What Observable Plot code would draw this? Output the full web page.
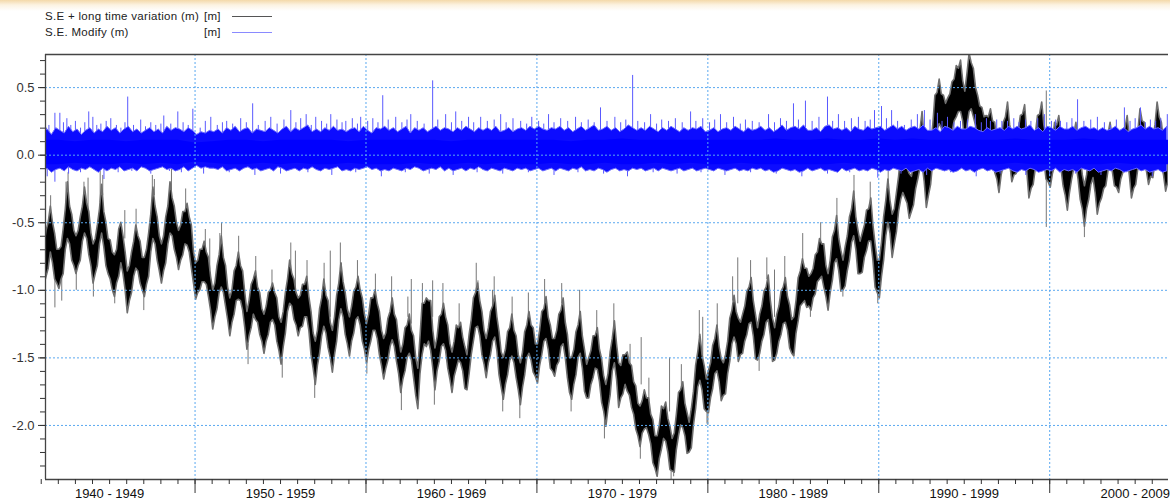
<!DOCTYPE html>
<html>
<head>
<meta charset="utf-8">
<script src="https://cdn.jsdelivr.net/npm/d3@7"></script>
<script src="https://cdn.jsdelivr.net/npm/@observablehq/plot@0.6"></script>
<style>
  html, body { margin: 0; padding: 0; background: #fff; overflow: hidden; }
  body { width: 1170px; height: 504px; position: relative; font-family: "Liberation Sans", Arial, sans-serif; }
  #haze { position: absolute; left: 0; top: 0; width: 1170px; height: 11px;
          background: linear-gradient(to bottom, rgba(240,204,140,0.75) 0px, rgba(248,228,190,0.45) 5px, rgba(255,255,255,0) 11px); }
  #legend { position: relative; height: 44px; font-size: 11.5px; letter-spacing: 0.3px; color: #222; }
  #legend span { position: absolute; line-height: 12px; white-space: pre; }
  #legend .swatch { position: absolute; width: 40px; height: 0; }
  #chart svg { display: block; }
</style>
</head>
<body>
<div id="haze"></div>
<div id="legend"></div>
<div id="chart"></div>
<script>
// ---- series names -------------------------------------------------------
const seriesNames = ["S.E + long time variation (m)", "S.E. Modify (m)"];
const seriesUnits = ["[m]", "[m]"];

// ---- axes ---------------------------------------------------------------
const xDomain = [1941.25, 2006.95];
const yDomain = [-2.4, 0.745];
const yMajorTicks = [-2.0, -1.5, -1.0, -0.5, 0.0, 0.5];
const yMinorTicks = [-2.3, -2.2, -2.1, -2.0, -1.9, -1.8, -1.7, -1.6, -1.5, -1.4, -1.3, -1.2, -1.1, -1.0,
  -0.9, -0.8, -0.7, -0.6, -0.5, -0.4, -0.3, -0.2, -0.1, 0.0, 0.1, 0.2, 0.3, 0.4, 0.5, 0.6, 0.7];
const decadeStarts = [1940, 1950, 1960, 1970, 1980, 1990, 2000];
const decadeLabels = ["1940 - 1949", "1950 - 1959", "1960 - 1969", "1970 - 1979", "1980 - 1989", "1990 - 1999", "2000 - 2009"];
const years = d3.range(1941, 2007);
const yearBounds = d3.range(1941, 2008);

// ---- S.E + long time variation: low / high of the band, eight samples per year ----
const seLow = [
  -0.85,-0.96,-0.90,-0.84,-0.72,-0.80,-0.92,-0.95,  -0.99,-0.92,-0.88,-0.70,-0.62,-0.66,-0.78,-0.82,
  -0.88,-0.82,-0.78,-0.64,-0.58,-0.62,-0.74,-0.82,  -0.95,-0.88,-0.82,-0.66,-0.58,-0.68,-0.82,-0.88,
  -0.92,-1.00,-1.05,-0.95,-0.90,-0.80,-0.88,-1.00,  -1.17,-1.08,-1.02,-0.90,-0.84,-0.86,-0.95,-1.00,
  -1.05,-0.96,-0.90,-0.72,-0.62,-0.66,-0.78,-0.86,  -0.95,-0.86,-0.80,-0.66,-0.58,-0.60,-0.70,-0.76,
  -0.85,-0.78,-0.74,-0.66,-0.67,-0.72,-0.84,-0.95,  -1.07,-1.02,-1.00,-0.94,-0.94,-0.96,-1.05,-1.15,
  -1.29,-1.20,-1.14,-1.02,-0.98,-1.02,-1.12,-1.22,  -1.34,-1.24,-1.18,-1.08,-1.07,-1.08,-1.15,-1.28,
  -1.44,-1.34,-1.28,-1.18,-1.22,-1.24,-1.33,-1.38,  -1.47,-1.38,-1.33,-1.24,-1.22,-1.26,-1.38,-1.45,
  -1.55,-1.42,-1.32,-1.16,-1.10,-1.12,-1.22,-1.26,  -1.34,-1.28,-1.27,-1.20,-1.20,-1.30,-1.48,-1.58,
  -1.70,-1.56,-1.47,-1.34,-1.27,-1.32,-1.43,-1.50,  -1.61,-1.48,-1.38,-1.22,-1.14,-1.20,-1.33,-1.40,
  -1.49,-1.38,-1.32,-1.22,-1.20,-1.26,-1.38,-1.44,  -1.54,-1.44,-1.38,-1.30,-1.30,-1.36,-1.48,-1.56,
  -1.66,-1.58,-1.52,-1.42,-1.37,-1.42,-1.53,-1.62,  -1.76,-1.66,-1.60,-1.50,-1.47,-1.52,-1.65,-1.78,
  -1.88,-1.62,-1.48,-1.40,-1.42,-1.38,-1.45,-1.58,  -1.74,-1.60,-1.53,-1.42,-1.40,-1.45,-1.58,-1.66,
  -1.76,-1.64,-1.58,-1.52,-1.54,-1.60,-1.73,-1.74,  -1.62,-1.48,-1.38,-1.28,-1.27,-1.34,-1.48,-1.55,
  -1.65,-1.54,-1.48,-1.38,-1.35,-1.45,-1.63,-1.72,  -1.81,-1.70,-1.63,-1.52,-1.49,-1.54,-1.65,-1.74,
  -1.85,-1.72,-1.63,-1.50,-1.47,-1.52,-1.61,-1.64,  -1.69,-1.56,-1.48,-1.38,-1.36,-1.44,-1.58,-1.60,
  -1.64,-1.56,-1.53,-1.42,-1.40,-1.50,-1.65,-1.76,  -1.81,-1.70,-1.63,-1.50,-1.47,-1.58,-1.75,-1.80,
  -1.80,-1.70,-1.65,-1.58,-1.59,-1.68,-1.83,-1.90,  -2.01,-1.88,-1.78,-1.60,-1.54,-1.66,-1.87,-1.80,
  -1.77,-1.70,-1.75,-1.78,-1.87,-1.92,-2.03,-2.08,  -2.16,-2.06,-2.03,-2.02,-2.07,-2.14,-2.28,-2.32,
  -2.38,-2.25,-2.18,-2.10,-2.12,-2.20,-2.33,-2.34,  -2.35,-2.18,-2.08,-2.00,-2.02,-2.08,-2.21,-2.20,
  -2.17,-2.00,-1.88,-1.72,-1.67,-1.74,-1.88,-1.90,  -1.91,-1.80,-1.73,-1.62,-1.60,-1.68,-1.82,-1.78,
  -1.77,-1.62,-1.53,-1.40,-1.35,-1.40,-1.53,-1.48,  -1.47,-1.38,-1.33,-1.25,-1.24,-1.34,-1.51,-1.52,
  -1.47,-1.38,-1.33,-1.24,-1.22,-1.34,-1.53,-1.52,  -1.47,-1.38,-1.33,-1.25,-1.24,-1.30,-1.43,-1.47,
  -1.49,-1.32,-1.23,-1.12,-1.10,-1.08,-1.13,-1.12,  -1.15,-1.06,-1.03,-0.94,-0.92,-0.90,-0.98,-1.05,
  -1.15,-1.02,-0.93,-0.80,-0.77,-0.86,-1.01,-1.00,  -0.97,-0.86,-0.78,-0.65,-0.60,-0.70,-0.88,-0.88,
  -0.87,-0.76,-0.71,-0.64,-0.64,-0.78,-0.98,-1.02,  -1.06,-0.90,-0.78,-0.60,-0.50,-0.58,-0.76,-0.66,
  -0.57,-0.42,-0.33,-0.28,-0.32,-0.36,-0.47,-0.42,  -0.37,-0.25,-0.18,-0.10,-0.07,-0.20,-0.39,-0.30,
  -0.22,-0.05, 0.07, 0.18, 0.23, 0.20, 0.12, 0.10,   0.06, 0.14, 0.17, 0.25, 0.28, 0.32, 0.32, 0.25,
   0.06, 0.22, 0.32, 0.34, 0.28, 0.22, 0.12, 0.14,   0.11, 0.12, 0.07, 0.09, 0.06,-0.01,-0.13,-0.18,
  -0.28,-0.15,-0.08, 0.00, 0.03,-0.06,-0.20,-0.15,  -0.14,-0.06,-0.03, 0.03, 0.03,-0.12,-0.32,-0.25,
  -0.22,-0.10,-0.03, 0.04, 0.06,-0.04,-0.18,-0.20,  -0.24,-0.14,-0.08,-0.02,-0.02,-0.10,-0.23,-0.30,
  -0.41,-0.28,-0.18,-0.10,-0.07,-0.18,-0.33,-0.40,  -0.53,-0.40,-0.33,-0.22,-0.17,-0.28,-0.44,-0.36,
  -0.32,-0.25,-0.23,-0.12,-0.07,-0.12,-0.23,-0.24,  -0.28,-0.18,-0.13,-0.05,-0.02,-0.15,-0.32,-0.25,
  -0.22,-0.10,-0.03,-0.02,-0.07,-0.12,-0.22,-0.16,  -0.17,-0.05, 0.02, 0.00,-0.07,-0.15,-0.27,-0.20
];
const seHigh = [
  -0.55,-0.66,-0.56,-0.50,-0.38,-0.50,-0.58,-0.70,  -0.70,-0.68,-0.55,-0.40,-0.20,-0.38,-0.44,-0.56,
  -0.60,-0.56,-0.46,-0.38,-0.24,-0.36,-0.42,-0.58,  -0.66,-0.62,-0.52,-0.40,-0.22,-0.42,-0.50,-0.62,
  -0.63,-0.72,-0.74,-0.70,-0.55,-0.50,-0.60,-0.72,  -0.86,-0.82,-0.72,-0.64,-0.52,-0.60,-0.64,-0.76,
  -0.76,-0.70,-0.58,-0.44,-0.24,-0.38,-0.46,-0.60,  -0.66,-0.60,-0.46,-0.38,-0.20,-0.32,-0.38,-0.50,
  -0.56,-0.52,-0.42,-0.42,-0.36,-0.46,-0.52,-0.72,  -0.80,-0.78,-0.70,-0.70,-0.64,-0.72,-0.76,-0.90,
  -1.00,-0.95,-0.82,-0.74,-0.60,-0.76,-0.82,-0.98,  -1.06,-1.00,-0.86,-0.82,-0.72,-0.82,-0.86,-1.02,
  -1.16,-1.08,-0.96,-0.92,-0.86,-0.98,-1.02,-1.14,  -1.18,-1.12,-1.02,-1.00,-0.95,-1.02,-1.06,-1.20,
  -1.24,-1.16,-1.02,-0.92,-0.78,-0.88,-0.92,-1.02,  -1.06,-1.04,-0.96,-0.96,-0.90,-1.05,-1.16,-1.32,
  -1.38,-1.30,-1.14,-1.06,-0.92,-1.04,-1.08,-1.24,  -1.30,-1.20,-1.04,-0.95,-0.80,-0.94,-1.02,-1.14,
  -1.20,-1.12,-1.01,-0.98,-0.90,-1.00,-1.06,-1.18,  -1.25,-1.18,-1.06,-1.06,-1.00,-1.10,-1.16,-1.30,
  -1.36,-1.32,-1.21,-1.16,-1.06,-1.18,-1.22,-1.36,  -1.46,-1.40,-1.28,-1.26,-1.18,-1.30,-1.34,-1.50,
  -1.58,-1.35,-1.10,-1.10,-1.06,-1.08,-1.08,-1.30,  -1.43,-1.35,-1.20,-1.18,-1.10,-1.20,-1.26,-1.40,
  -1.46,-1.38,-1.26,-1.28,-1.24,-1.35,-1.42,-1.48,  -1.33,-1.22,-1.06,-1.02,-0.95,-1.08,-1.16,-1.30,
  -1.36,-1.28,-1.16,-1.12,-1.04,-1.20,-1.31,-1.46,  -1.50,-1.44,-1.31,-1.28,-1.18,-1.30,-1.34,-1.48,
  -1.54,-1.46,-1.31,-1.26,-1.16,-1.26,-1.28,-1.40,  -1.40,-1.30,-1.16,-1.14,-1.05,-1.20,-1.26,-1.36,
  -1.36,-1.30,-1.18,-1.15,-1.06,-1.24,-1.33,-1.50,  -1.50,-1.44,-1.31,-1.26,-1.16,-1.34,-1.44,-1.55,
  -1.50,-1.45,-1.34,-1.34,-1.28,-1.44,-1.51,-1.64,  -1.70,-1.62,-1.46,-1.36,-1.23,-1.40,-1.54,-1.56,
  -1.48,-1.48,-1.46,-1.54,-1.56,-1.68,-1.71,-1.84,  -1.86,-1.82,-1.74,-1.80,-1.80,-1.92,-1.96,-2.08,
  -2.08,-2.00,-1.86,-1.88,-1.83,-1.95,-2.01,-2.10,  -2.06,-1.92,-1.76,-1.74,-1.68,-1.84,-1.91,-1.98,
  -1.88,-1.75,-1.56,-1.46,-1.33,-1.48,-1.56,-1.66,  -1.60,-1.54,-1.41,-1.36,-1.26,-1.42,-1.51,-1.54,
  -1.48,-1.38,-1.21,-1.15,-1.04,-1.16,-1.21,-1.24,  -1.18,-1.12,-1.01,-0.98,-0.91,-1.08,-1.18,-1.28,
  -1.18,-1.12,-1.01,-0.98,-0.89,-1.08,-1.21,-1.28,  -1.18,-1.12,-1.01,-0.98,-0.91,-1.05,-1.11,-1.22,
  -1.20,-1.08,-0.91,-0.86,-0.77,-0.84,-0.84,-0.90,  -0.88,-0.84,-0.74,-0.72,-0.62,-0.66,-0.66,-0.82,
  -0.88,-0.78,-0.61,-0.56,-0.45,-0.62,-0.71,-0.78,  -0.68,-0.60,-0.46,-0.40,-0.27,-0.46,-0.56,-0.64,
  -0.58,-0.52,-0.41,-0.40,-0.32,-0.52,-0.66,-0.78,  -0.78,-0.65,-0.46,-0.34,-0.18,-0.34,-0.44,-0.40,
  -0.28,-0.16, 0.00,-0.02,-0.01,-0.10,-0.14,-0.16,  -0.08, 0.00, 0.14, 0.18, 0.32, 0.10,-0.06,-0.02,
   0.07, 0.22, 0.44, 0.46, 0.56, 0.45, 0.44, 0.38,   0.42, 0.45, 0.54, 0.56, 0.66, 0.64, 0.70, 0.55,
   0.47, 0.60, 0.75, 0.68, 0.64, 0.50, 0.44, 0.36,   0.35, 0.28, 0.29, 0.28, 0.34, 0.25, 0.24, 0.10,
   0.02, 0.10, 0.24, 0.28, 0.39, 0.22, 0.14, 0.08,   0.12, 0.18, 0.29, 0.30, 0.37, 0.15, 0.02, 0.00,
   0.07, 0.15, 0.29, 0.30, 0.39, 0.22, 0.14, 0.05,   0.04, 0.10, 0.24, 0.22, 0.29, 0.15, 0.09,-0.05,
  -0.10,-0.01, 0.14, 0.15, 0.24, 0.08,-0.01,-0.15,  -0.23,-0.15,-0.01, 0.02, 0.14,-0.02,-0.11,-0.10,
  -0.03, 0.02, 0.14, 0.15, 0.24, 0.12, 0.09, 0.02,   0.02, 0.08, 0.19, 0.20, 0.29, 0.12, 0.02, 0.02,
   0.07, 0.18, 0.34, 0.25, 0.24, 0.12, 0.09, 0.08,   0.12, 0.22, 0.39, 0.28, 0.24, 0.10, 0.04, 0.02
];
// isolated excursions of the same series (time, from, to)
const seSpikeT = [
  1941.55, 1941.8, 1942.2, 1942.45, 1942.57, 1943.05, 1943.5, 1943.74, 1944.05, 1944.45, 1944.6, 1945.3, 1945.89,
  1946.55, 1947.0, 1947.5, 1947.62, 1948.62, 1949.45, 1950.6, 1950.86, 1951.45, 1951.55, 1952.55, 1953.1, 1953.55,
  1954.5, 1955.1, 1955.6, 1955.87, 1956.55, 1957.0, 1957.55, 1957.91, 1958.5, 1958.56, 1959.5, 1960.05, 1960.55,
  1961.5, 1962.07, 1962.45, 1962.65, 1963.3, 1963.9, 1964.0, 1964.5, 1965.45, 1966.45, 1966.55, 1967.4, 1967.5,
  1968.0, 1968.55, 1969.0, 1969.5, 1970.45, 1971.45, 1972.0, 1972.5, 1973.5, 1973.95, 1974.0, 1974.5, 1975.45,
  1976.05, 1976.1, 1976.55, 1977.76, 1977.85, 1978.0, 1978.45, 1979.5, 1979.7, 1979.95, 1980.0, 1980.55, 1981.45,
  1981.75, 1982.5, 1983.0, 1983.45, 1983.9, 1984.5, 1985.55, 1986.0, 1986.6, 1987.55, 1987.9, 1988.55, 1989.5,
  1989.94, 1990.55, 1999.8, 2002.03
];
const seSpikeLo = [
  -0.50, -1.13, -1.08, -0.45, -0.45, -1.00, -0.40, -0.50, -1.05, -0.35, -0.30, -1.10, -0.62,
  -0.60, -1.15, -0.35, -0.30, -0.30, -0.45, -0.75, -0.85, -0.80, -0.70, -0.80, -1.55, -0.95,
  -1.00, -1.65, -0.85, -1.00, -0.95, -1.80, -1.00, -1.20, -0.85, -1.00, -0.95, -1.62, -1.05,
  -1.10, -1.89, -1.20, -1.25, -1.15, -1.20, -1.85, -1.15, -1.28, -1.00, -1.15, -1.15, -1.10,
  -1.90, -1.20, -1.95, -1.20, -1.10, -1.10, -1.90, -1.25, -1.32, -2.10, -2.00, -1.28, -1.60,
  -2.25, -1.70, -1.82, -1.90, -2.41, -2.38, -1.72, -1.35, -1.50, -1.99, -2.00, -1.30, -1.08,
  -1.10, -0.93, -1.60, -0.92, -1.20, -0.93, -0.85, -1.20, -0.65, -0.50, -1.05, -0.30, -0.36,
  -1.10, -0.22, -0.535, -0.61
];
const seSpikeHi = [
  -0.30, -0.80, -0.90, -0.20, -0.13, -0.85, -0.20, -0.17, -0.90, -0.12, -0.15, -0.95, -0.41,
  -0.40, -1.00, -0.15, -0.18, -0.09, -0.25, -0.55, -0.62, -0.58, -0.50, -0.60, -1.40, -0.75,
  -0.85, -1.50, -0.65, -0.71, -0.78, -1.65, -0.80, -0.71, -0.65, -0.80, -0.78, -1.50, -0.88,
  -0.90, -1.60, -1.05, -0.92, -0.95, -0.93, -1.70, -0.95, -1.10, -0.80, -0.93, -1.00, -0.90,
  -1.78, -1.05, -1.82, -1.02, -0.92, -0.95, -1.78, -1.00, -1.15, -1.95, -1.80, -1.10, -1.40,
  -2.10, -1.35, -1.65, -1.50, -2.20, -2.30, -1.55, -1.15, -1.20, -1.80, -1.88, -1.10, -0.90,
  -0.76, -0.78, -1.45, -0.76, -0.85, -0.75, -0.58, -1.10, -0.50, -0.32, -0.95, -0.15, -0.20,
  -0.90, -0.05, 0.475, -0.40
];

// ---- S.E. Modify: envelope, four samples per year --------------------------
const modEnvHi = [
  0.17,0.19,0.15,0.20, 0.18,0.16,0.21,0.17, 0.19,0.15,0.18,0.20, 0.16,0.19,0.17,0.21, 0.18,0.20,0.16,0.19,
  0.21,0.17,0.19,0.16, 0.18,0.20,0.17,0.19, 0.16,0.21,0.18,0.20, 0.19,0.17,0.20,0.18, 0.15,0.17,0.16,0.18,
  0.17,0.19,0.16,0.20, 0.18,0.21,0.17,0.19, 0.20,0.16,0.19,0.18, 0.17,0.20,0.18,0.16, 0.19,0.21,0.17,0.20,
  0.18,0.20,0.22,0.17, 0.19,0.17,0.20,0.18, 0.21,0.18,0.19,0.17, 0.19,0.20,0.17,0.21, 0.18,0.16,0.20,0.19,
  0.21,0.18,0.20,0.17, 0.19,0.21,0.16,0.20, 0.18,0.20,0.17,0.19, 0.21,0.18,0.20,0.19, 0.17,0.20,0.18,0.21,
  0.19,0.17,0.20,0.18, 0.20,0.18,0.21,0.17, 0.18,0.20,0.17,0.19, 0.20,0.18,0.21,0.19, 0.21,0.19,0.18,0.20,
  0.19,0.21,0.18,0.20, 0.17,0.19,0.21,0.18, 0.20,0.22,0.18,0.19, 0.21,0.18,0.20,0.17, 0.19,0.22,0.20,0.18,
  0.20,0.18,0.21,0.19, 0.17,0.20,0.18,0.21, 0.19,0.17,0.20,0.18, 0.20,0.19,0.21,0.17, 0.18,0.20,0.17,0.19,
  0.20,0.18,0.21,0.19, 0.17,0.20,0.18,0.19, 0.21,0.18,0.20,0.17, 0.19,0.22,0.18,0.20, 0.21,0.19,0.22,0.18,
  0.18,0.20,0.17,0.21, 0.22,0.19,0.20,0.18, 0.20,0.17,0.21,0.19, 0.18,0.21,0.19,0.20, 0.21,0.18,0.20,0.22,
  0.19,0.21,0.18,0.20, 0.21,0.19,0.22,0.18, 0.18,0.20,0.17,0.21, 0.20,0.18,0.21,0.19, 0.19,0.21,0.20,0.18,
  0.17,0.20,0.18,0.19, 0.20,0.18,0.21,0.19, 0.21,0.19,0.20,0.22, 0.18,0.20,0.17,0.21, 0.20,0.18,0.21,0.19,
  0.19,0.21,0.18,0.20, 0.21,0.19,0.20,0.18, 0.20,0.18,0.19,0.21, 0.18,0.20,0.17,0.19, 0.20,0.22,0.19,0.21,
  0.19,0.20,0.18,0.21
];
const modEnvLo = [
  -0.12,-0.10,-0.13,-0.11, -0.10,-0.12,-0.09,-0.11, -0.12,-0.10,-0.11,-0.09, -0.11,-0.13,-0.10,-0.12, -0.10,-0.11,-0.09,-0.12,
  -0.11,-0.10,-0.12,-0.09, -0.10,-0.12,-0.11,-0.10, -0.09,-0.11,-0.10,-0.12, -0.11,-0.09,-0.12,-0.10, -0.08,-0.10,-0.09,-0.10,
  -0.10,-0.11,-0.09,-0.12, -0.11,-0.10,-0.12,-0.10, -0.09,-0.11,-0.10,-0.12, -0.11,-0.10,-0.12,-0.09, -0.10,-0.12,-0.11,-0.10,
  -0.12,-0.10,-0.11,-0.09, -0.11,-0.12,-0.10,-0.11, -0.10,-0.09,-0.12,-0.11, -0.12,-0.10,-0.11,-0.10, -0.09,-0.11,-0.10,-0.12,
  -0.11,-0.12,-0.10,-0.11, -0.12,-0.10,-0.11,-0.09, -0.10,-0.12,-0.11,-0.10, -0.11,-0.09,-0.12,-0.10, -0.12,-0.11,-0.10,-0.12,
  -0.10,-0.11,-0.09,-0.11, -0.12,-0.10,-0.11,-0.12, -0.10,-0.11,-0.12,-0.10, -0.11,-0.10,-0.12,-0.11, -0.10,-0.12,-0.11,-0.10,
  -0.12,-0.10,-0.11,-0.12, -0.10,-0.11,-0.09,-0.12, -0.11,-0.12,-0.10,-0.11, -0.13,-0.11,-0.10,-0.12, -0.11,-0.12,-0.10,-0.11,
  -0.10,-0.12,-0.11,-0.10, -0.12,-0.10,-0.11,-0.12, -0.11,-0.10,-0.12,-0.11, -0.10,-0.12,-0.11,-0.10, -0.11,-0.12,-0.10,-0.11,
  -0.12,-0.11,-0.10,-0.12, -0.11,-0.12,-0.10,-0.11, -0.10,-0.12,-0.11,-0.13, -0.12,-0.10,-0.11,-0.12, -0.11,-0.13,-0.12,-0.10,
  -0.12,-0.11,-0.10,-0.12, -0.11,-0.12,-0.13,-0.10, -0.12,-0.11,-0.10,-0.12, -0.11,-0.12,-0.10,-0.11, -0.13,-0.11,-0.12,-0.10,
  -0.11,-0.12,-0.10,-0.13, -0.12,-0.11,-0.13,-0.10, -0.12,-0.10,-0.11,-0.12, -0.11,-0.13,-0.12,-0.10, -0.12,-0.11,-0.13,-0.11,
  -0.10,-0.12,-0.11,-0.13, -0.12,-0.11,-0.10,-0.12, -0.13,-0.11,-0.12,-0.10, -0.11,-0.13,-0.12,-0.11, -0.12,-0.10,-0.13,-0.11,
  -0.12,-0.11,-0.13,-0.10, -0.11,-0.12,-0.10,-0.13, -0.12,-0.11,-0.12,-0.10, -0.11,-0.13,-0.12,-0.11, -0.10,-0.12,-0.11,-0.13,
  -0.12,-0.11,-0.13,-0.12
];
// dense core of S.E. Modify, one value per year boundary (1941 ... 2007)
const modCoreHi = [
  0.11,0.11,0.10,0.11,0.11,0.10,0.11,0.11,0.11,0.09, 0.10,0.11,0.11,0.10,0.11,0.11,0.11,0.11,0.10,0.11,
  0.11,0.11,0.11,0.11,0.10,0.11,0.11,0.11,0.11,0.11, 0.11,0.10,0.11,0.11,0.12,0.11,0.11,0.11,0.11,0.11,
  0.11,0.11,0.11,0.12,0.11,0.11,0.12,0.11,0.11,0.12, 0.11,0.12,0.11,0.11,0.11,0.11,0.11,0.12,0.11,0.11,
  0.11,0.12,0.11,0.11,0.11,0.11,0.11
];
const modCoreLo = [
  -0.07,-0.07,-0.06,-0.07,-0.07,-0.06,-0.07,-0.06,-0.07,-0.05, -0.06,-0.07,-0.07,-0.06,-0.07,-0.06,-0.07,-0.07,-0.06,-0.07,
  -0.07,-0.07,-0.06,-0.07,-0.07,-0.06,-0.07,-0.06,-0.07,-0.07, -0.06,-0.07,-0.07,-0.06,-0.07,-0.07,-0.06,-0.07,-0.06,-0.07,
  -0.07,-0.06,-0.07,-0.07,-0.07,-0.07,-0.07,-0.06,-0.07,-0.07, -0.07,-0.07,-0.06,-0.07,-0.07,-0.07,-0.07,-0.06,-0.07,-0.07,
  -0.07,-0.07,-0.07,-0.06,-0.07,-0.07,-0.07
];
// upward peaks of S.E. Modify (time, value)
const modPeakT = [
  1941.3,1941.45,1941.8,1942.09,1942.3,1942.5,1942.73,1943.0,1943.3,1943.55,1943.78,1944.02,1944.25,1944.49,1944.8,
  1945.07,1945.4,1945.66,1945.9,1946.06,1946.4,1946.82,1947.1,1947.41,1947.7,1948.0,1948.17,1948.58,1948.99,1949.3,1949.6,1949.87,
  1950.3,1950.6,1950.92,1951.3,1951.6,1951.85,1952.2,1952.67,1953.0,1953.37,1953.7,1954.1,1954.43,1954.8,1955.2,1955.6,1955.9,
  1956.18,1956.5,1956.8,1957.06,1957.4,1957.7,1957.94,1958.3,1958.6,1958.82,1959.2,1959.5,1959.69,
  1960.1,1960.4,1960.7,1960.98,1961.3,1961.74,1962.1,1962.4,1962.62,1963.0,1963.4,1963.9,1964.2,1964.66,1965.0,1965.25,1965.6,
  1966.0,1966.3,1966.71,1967.1,1967.5,1967.88,1968.2,1968.6,1969.05,1969.4,1969.7,
  1970.1,1970.4,1970.68,1971.0,1971.39,1971.8,1972.26,1972.6,1973.0,1973.35,1973.72,1974.1,1974.56,1974.9,1975.2,1975.6,1975.9,
  1976.3,1976.65,1977.0,1977.3,1977.7,1978.1,1978.5,1978.99,1979.3,1979.7,
  1980.1,1980.4,1980.74,1981.1,1981.5,1981.9,1982.2,1982.6,1983.0,1983.55,1983.9,1984.25,1984.6,1985.01,1985.3,1985.71,
  1986.1,1986.5,1987.0,1987.3,1987.64,1988.0,1988.4,1988.81,1989.2,1989.5,1989.75,
  1990.16,1990.45,1990.75,1991.1,1991.5,1991.9,1992.26,1992.67,1993.0,1993.43,1993.7,1994.02,1994.4,1994.78,1995.2,1995.65,
  1996.0,1996.3,1996.53,1996.9,1997.2,1997.53,1997.9,1998.2,1998.58,1998.9,1999.3,1999.69,
  2000.1,2000.35,2000.63,2001.0,2001.3,2001.63,2002.0,2002.4,2002.79,2003.2,2003.55,2003.9,2004.37,2004.7,2005.0,2005.31,
  2005.6,2005.89,2006.2,2006.5,2006.88
];
const modPeakV = [
  0.20,0.22,0.31,0.31,0.24,0.27,0.22,0.25,0.20,0.24,0.32,0.28,0.22,0.23,0.25,
  0.27,0.22,0.20,0.24,0.43,0.22,0.26,0.21,0.24,0.22,0.23,0.29,0.23,0.32,0.24,0.22,0.34,
  0.20,0.25,0.28,0.22,0.24,0.25,0.23,0.27,0.24,0.38,0.22,0.25,0.28,0.23,0.26,0.33,0.24,
  0.27,0.30,0.22,0.28,0.25,0.23,0.30,0.26,0.24,0.25,0.27,0.23,0.28,
  0.25,0.27,0.24,0.44,0.26,0.28,0.24,0.26,0.30,0.25,0.23,0.55,0.26,0.30,0.24,0.32,0.25,
  0.28,0.24,0.28,0.25,0.26,0.30,0.24,0.27,0.25,0.23,0.28,
  0.25,0.23,0.30,0.24,0.27,0.25,0.28,0.24,0.26,0.24,0.35,0.25,0.28,0.24,0.26,0.59,0.25,
  0.24,0.30,0.23,0.26,0.25,0.27,0.24,0.32,0.25,0.27,
  0.24,0.26,0.30,0.24,0.28,0.23,0.26,0.25,0.24,0.30,0.24,0.27,0.25,0.38,0.26,0.40,
  0.25,0.28,0.43,0.25,0.30,0.25,0.27,0.28,0.25,0.26,0.33,
  0.36,0.27,0.33,0.25,0.22,0.26,0.30,0.33,0.26,0.31,0.25,0.28,0.24,0.25,0.26,0.30,
  0.24,0.27,0.25,0.26,0.25,0.25,0.27,0.24,0.26,0.25,0.27,0.30,
  0.25,0.26,0.25,0.24,0.27,0.41,0.25,0.26,0.28,0.24,0.22,0.26,0.35,0.25,0.27,0.35,
  0.24,0.26,0.25,0.27,0.30
];
// downward peaks of S.E. Modify (time, value)
const modDipT = [1941.35,1941.8,1942.6,1943.3,1944.67,1945.5,1946.3,1947.41,1948.5,1949.2,1950.5,1952.0,1953.5,
  1955.0,1956.6,1958.0,1959.4,1960.9,1962.3,1963.7,1965.1,1966.5,1968.0,1969.5,1971.0,1972.4,1973.9,1975.3,
  1976.8,1978.2,1979.6,1981.0,1982.5,1984.0,1985.5,1987.0,1988.3,1989.94,1991.3,1992.8,1994.2,1995.7,1997.1,
  1998.6,2000.0,2001.5,2003.0,2004.5,2006.0];
const modDipV = [-0.16,-0.20,-0.14,-0.13,-0.18,-0.13,-0.12,-0.14,-0.12,-0.13,-0.14,-0.13,-0.15,
  -0.14,-0.13,-0.15,-0.13,-0.16,-0.13,-0.14,-0.15,-0.13,-0.14,-0.13,-0.15,-0.13,-0.14,-0.16,
  -0.13,-0.14,-0.13,-0.15,-0.13,-0.14,-0.16,-0.14,-0.13,-0.17,-0.14,-0.15,-0.13,-0.16,-0.14,
  -0.15,-0.16,-0.14,-0.15,-0.13,-0.16];

// ---- tables built from the arrays -------------------------------------------
const seRows = seLow.map((lo, i) => ({t: years[Math.floor(i / 8)] + (i % 8 + 0.5) / 8, lo, hi: seHigh[i]}));
const seSpikes = seSpikeT.map((t, i) => ({t, lo: seSpikeLo[i], hi: seSpikeHi[i]}));
const modEnv = modEnvHi.map((hi, i) => ({t: years[Math.floor(i / 4)] + (i % 4 + 0.5) / 4, lo: modEnvLo[i], hi}));
const modCore = yearBounds.map((t, i) => ({t, lo: modCoreLo[i], hi: modCoreHi[i]}));
const modPeaks = modPeakT.map((t, i) => ({t, v: modPeakV[i]}));
const modDips = modDipT.map((t, i) => ({t, v: modDipV[i]}));

// ---- legend -------------------------------------------------------------------
const legend = document.getElementById("legend");
const legendColors = ["#555", "#8a8aff"];
seriesNames.forEach((name, i) => {
  const top = 10 + i * 16;
  const a = document.createElement("span");
  a.textContent = name; a.style.left = "45px"; a.style.top = top + "px";
  const b = document.createElement("span");
  b.textContent = seriesUnits[i]; b.style.left = "204px"; b.style.top = top + "px";
  const s = document.createElement("div");
  s.className = "swatch"; s.style.left = "232px"; s.style.top = (top + 6) + "px";
  s.style.borderTop = "1px solid " + legendColors[i];
  legend.append(a, b, s);
});

// ---- chart ---------------------------------------------------------------------
const gridColor = "#5aa8f0";
const axisColor = "#333";
const chart = Plot.plot({
  width: 1170,
  height: 460,
  marginTop: 10,
  marginBottom: 25,
  marginLeft: 45,
  marginRight: 2,
  style: {fontFamily: "'Liberation Sans', Arial, sans-serif", fontSize: "13px", color: axisColor, background: "#fff"},
  x: {domain: xDomain, axis: null},
  y: {domain: yDomain, axis: null},
  marks: [
    // S.E + long time variation
    Plot.ruleX(seSpikes, {x: "t", y1: "lo", y2: "hi", stroke: "#777", strokeWidth: 1, clip: true}),
    Plot.areaY(seRows, {x: "t", y1: "lo", y2: "hi", fill: "#000", stroke: "#6e6e6e", strokeWidth: 1.6, clip: true}),
    // S.E. Modify
    Plot.ruleX(modPeaks, {x: "t", y1: 0, y2: "v", stroke: "#5959ff", strokeWidth: 1, clip: true}),
    Plot.ruleX(modDips, {x: "t", y1: 0, y2: "v", stroke: "#5959ff", strokeWidth: 1, clip: true}),
    Plot.areaY(modEnv, {x: "t", y1: "lo", y2: "hi", fill: "#0c0cff", stroke: "#6c6cff", strokeWidth: 1, clip: true}),
    Plot.areaY(modCore, {x: "t", y1: "lo", y2: "hi", fill: "#0000ff", clip: true}),
    // grid
    Plot.ruleY(yMajorTicks, {stroke: gridColor, strokeWidth: 1, strokeDasharray: "2,2"}),
    Plot.ruleX(decadeStarts.filter(d => d > xDomain[0]), {stroke: gridColor, strokeWidth: 1, strokeDasharray: "2,2"}),
    // frame lines
    Plot.ruleY([yDomain[1]], {stroke: "#444", strokeWidth: 1.3}),
    Plot.ruleY([yDomain[0]], {stroke: "#444", strokeWidth: 1.3}),
    Plot.ruleX([xDomain[0]], {stroke: "#444", strokeWidth: 1.3}),
    // y axis
    Plot.axisY(yMinorTicks, {tickSize: 5, tickFormat: () => "", label: null, stroke: axisColor}),
    Plot.axisY(yMajorTicks, {tickSize: 7, tickPadding: 4, tickFormat: d => d.toFixed(1), label: null, fontSize: 13, stroke: axisColor}),
    // x axis
    Plot.axisX(years, {tickSize: 5, tickFormat: () => "", label: null, stroke: axisColor}),
    Plot.axisX(decadeStarts.filter(d => d > xDomain[0]), {tickSize: 14, tickFormat: () => "", label: null, stroke: axisColor}),
    Plot.text(decadeLabels, {x: (d, i) => decadeStarts[i] + 5, frameAnchor: "bottom", dy: 18, text: d => d, fontSize: 13, fill: "#111"})
  ]
});
document.getElementById("chart").append(chart);
</script>
</body>
</html>
